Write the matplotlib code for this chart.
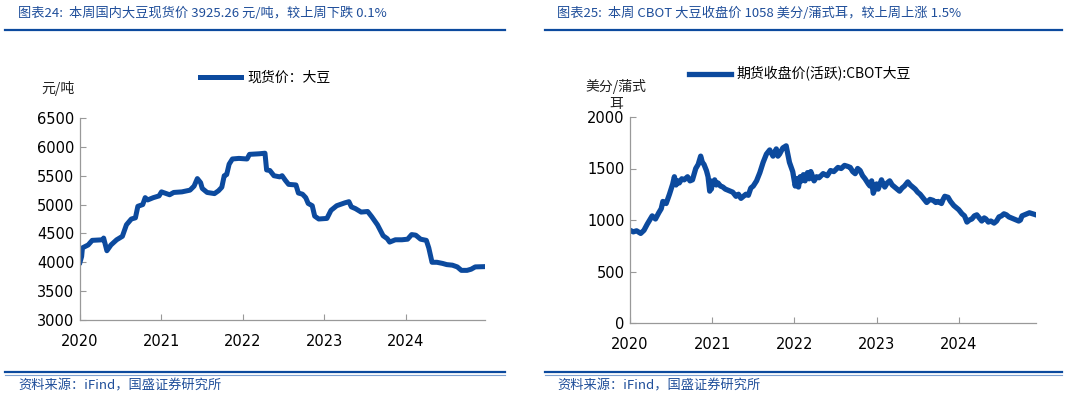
import matplotlib
matplotlib.use("Agg")
import matplotlib.pyplot as plt
from matplotlib.lines import Line2D

plt.rcParams['font.family'] = ['Noto Sans CJK SC', 'DejaVu Sans']

# Spot price: soybean (yuan/ton), x in decimal years
spot_x = [2020.00, 2020.02, 2020.03, 2020.10, 2020.15, 2020.28, 2020.29, 2020.33, 2020.38,
          2020.45, 2020.52, 2020.57, 2020.63, 2020.68, 2020.71, 2020.77, 2020.80, 2020.83,
          2020.90, 2020.97, 2021.00, 2021.10, 2021.15, 2021.25, 2021.35, 2021.40, 2021.44,
          2021.48, 2021.50, 2021.56, 2021.65, 2021.70, 2021.74, 2021.77, 2021.80, 2021.83,
          2021.87, 2021.95, 2022.05, 2022.08, 2022.20, 2022.27, 2022.29, 2022.33, 2022.38,
          2022.45, 2022.48, 2022.52, 2022.56, 2022.65, 2022.68, 2022.73, 2022.77, 2022.80,
          2022.85, 2022.88, 2022.93, 2023.03, 2023.08, 2023.15, 2023.25, 2023.30, 2023.33,
          2023.38, 2023.45, 2023.53, 2023.58, 2023.65, 2023.72, 2023.77, 2023.80, 2023.87,
          2023.95, 2024.02, 2024.07, 2024.12, 2024.18, 2024.25, 2024.28, 2024.32, 2024.38,
          2024.45, 2024.50, 2024.57, 2024.63, 2024.68, 2024.75, 2024.80, 2024.85, 2024.97]
spot_y = [4000, 4100, 4250, 4300, 4380, 4390, 4420, 4200, 4300,
          4390, 4450, 4650, 4750, 4770, 4970, 5000, 5120, 5080,
          5120, 5150, 5220, 5170, 5210, 5220, 5250, 5320, 5450,
          5380, 5280, 5210, 5190, 5240, 5300, 5500, 5520, 5700,
          5790, 5800, 5790, 5870, 5880, 5890, 5600, 5590, 5500,
          5480, 5500, 5420, 5350, 5340, 5200, 5180, 5120, 5020,
          4980, 4800, 4750, 4760, 4900, 4980, 5030, 5050, 4960,
          4930, 4870, 4880, 4790, 4650, 4460, 4410, 4350, 4390,
          4390, 4400, 4480, 4470, 4400, 4380, 4250, 4000, 4000,
          3980, 3960, 3950, 3920, 3860, 3860, 3880, 3920, 3925]

# CBOT soybean futures close (cents/bushel)
cbot_x = [2020.00, 2020.04, 2020.08, 2020.13, 2020.17, 2020.21, 2020.24, 2020.27, 2020.31,
          2020.35, 2020.38, 2020.40, 2020.44, 2020.48, 2020.52, 2020.54, 2020.56, 2020.58,
          2020.60, 2020.63, 2020.66, 2020.70, 2020.73, 2020.76, 2020.80, 2020.83, 2020.86,
          2020.88, 2020.90, 2020.93, 2020.95, 2020.97, 2020.98, 2020.99, 2021.00, 2021.03,
          2021.05, 2021.07, 2021.10, 2021.13, 2021.16, 2021.19, 2021.22, 2021.25, 2021.29,
          2021.32, 2021.35, 2021.38, 2021.41, 2021.44, 2021.47, 2021.50, 2021.54, 2021.58,
          2021.62, 2021.66, 2021.70, 2021.72, 2021.74, 2021.78, 2021.80, 2021.82, 2021.86,
          2021.90, 2021.92, 2021.94, 2021.98, 2022.01, 2022.03, 2022.05, 2022.07, 2022.09,
          2022.11, 2022.13, 2022.16, 2022.18, 2022.20, 2022.24, 2022.27, 2022.30, 2022.35,
          2022.40, 2022.44, 2022.48, 2022.53, 2022.57, 2022.61, 2022.65, 2022.68, 2022.71,
          2022.74, 2022.77, 2022.80, 2022.83, 2022.86, 2022.90, 2022.92, 2022.94, 2022.96,
          2023.00, 2023.02, 2023.06, 2023.08, 2023.10, 2023.13, 2023.16, 2023.19, 2023.22,
          2023.25, 2023.28, 2023.31, 2023.34, 2023.38, 2023.41, 2023.44, 2023.47, 2023.50,
          2023.53, 2023.56, 2023.61, 2023.65, 2023.69, 2023.72, 2023.75, 2023.79, 2023.81,
          2023.83, 2023.87, 2023.90, 2023.94, 2024.00, 2024.04, 2024.07, 2024.10, 2024.13,
          2024.16, 2024.19, 2024.22, 2024.25, 2024.28, 2024.31, 2024.33, 2024.36, 2024.39,
          2024.43, 2024.46, 2024.49, 2024.52, 2024.55, 2024.58, 2024.61, 2024.64, 2024.67,
          2024.70, 2024.73, 2024.75, 2024.77, 2024.80, 2024.83, 2024.86, 2024.90, 2024.94]
cbot_y = [900, 885, 895, 870, 900, 960, 1000, 1040, 1010,
          1070, 1110, 1180, 1160, 1250, 1350, 1420, 1340, 1380,
          1360, 1400, 1390, 1420, 1380, 1390, 1500, 1540, 1620,
          1560, 1540, 1480, 1420, 1280, 1380, 1300, 1350, 1390,
          1340, 1360, 1330, 1320, 1300, 1290, 1280, 1270, 1230,
          1250, 1210, 1230, 1250, 1240, 1310, 1330, 1380, 1460,
          1560, 1640, 1680, 1650, 1620, 1690, 1620, 1640, 1700,
          1720, 1640, 1560, 1470, 1330, 1400, 1320, 1420, 1380,
          1440, 1380, 1460, 1400, 1470, 1380, 1420, 1410, 1450,
          1430, 1480, 1470, 1510, 1500, 1530, 1520, 1510, 1470,
          1450, 1500, 1480, 1430, 1400, 1350, 1330, 1380, 1260,
          1350, 1300, 1390, 1350, 1320, 1360, 1380, 1340, 1320,
          1300, 1280, 1310, 1330, 1370, 1340, 1320, 1300, 1270,
          1250, 1220, 1170, 1200, 1190, 1170, 1180, 1160, 1200,
          1230, 1220, 1180, 1140, 1100, 1060, 1040, 980, 1000,
          1010, 1040, 1050, 1020, 990, 1020, 1010, 980, 990,
          970, 990, 1030, 1040, 1060, 1050, 1030, 1020, 1010,
          1000, 990, 1000, 1040, 1050, 1060, 1070, 1060, 1050]

years = [2020, 2021, 2022, 2023, 2024]
line_color = "#0C4A9E"
text_blue = "#1F4E9A"

fig = plt.figure(figsize=(10.65, 3.98), dpi=100)

# Panel titles and rules
fig.text(18 / 1065, 1 - 13 / 398, "图表24:  本周国内大豆现货价 3925.26 元/吨，较上周下跌 0.1%",
         color=text_blue, fontsize=9.5, style="italic", va="center", ha="left")
fig.text(557 / 1065, 1 - 13 / 398, "图表25:  本周 CBOT 大豆收盘价 1058 美分/蒲式耳，较上周上涨 1.5%",
         color=text_blue, fontsize=9.5, style="italic", va="center", ha="left")
for x0, x1 in [(5, 505), (545, 1062)]:
    fig.add_artist(Line2D([x0 / 1065, x1 / 1065], [1 - 30 / 398] * 2, color=line_color, lw=1.6))
    fig.add_artist(Line2D([x0 / 1065, x1 / 1065], [1 - 372 / 398] * 2, color=line_color, lw=1.6))
    fig.add_artist(Line2D([x0 / 1065, x1 / 1065], [1 - 374.5 / 398] * 2, color="#7FA1D0", lw=0.8))

fig.text(18 / 1065, 1 - 386 / 398, "资料来源：iFind，国盛证券研究所",
         color=text_blue, fontsize=9.5, style="italic", va="center", ha="left")
fig.text(557 / 1065, 1 - 386 / 398, "资料来源：iFind，国盛证券研究所",
         color=text_blue, fontsize=9.5, style="italic", va="center", ha="left")


def style_axes(ax):
    for s in ["top", "right"]:
        ax.spines[s].set_visible(False)
    for s in ["left", "bottom"]:
        ax.spines[s].set_color("#999999")
        ax.spines[s].set_linewidth(0.9)
    ax.tick_params(direction="in", length=4, color="#999999", labelsize=10.5, pad=4)
    ax.tick_params(axis="x", pad=10)
    ax.set_xticks(years)
    ax.set_xticklabels([str(y) for y in years])
    for lab in ax.get_xticklabels() + ax.get_yticklabels():
        lab.set_family("DejaVu Sans")


# Left: spot price
ax1 = fig.add_axes([80 / 1065, 1 - 320 / 398, 405 / 1065, 202 / 398])
ax1.plot(spot_x, spot_y, color=line_color, lw=3.6, solid_joinstyle="round",
         label="现货价：大豆")
ax1.set_xlim(2020.0, 2024.97)
ax1.set_ylim(3000, 6500)
ax1.set_yticks(range(3000, 6501, 500))
style_axes(ax1)
ax1.legend(loc="center", bbox_to_anchor=(265 / 1065, 1 - 78 / 398), bbox_transform=fig.transFigure,
           frameon=False, fontsize=10, handlelength=3.0, handletextpad=0.4)
fig.text(58 / 1065, 1 - 89 / 398, "元/吨", fontsize=10, ha="center", va="center", color="#222222")

# Right: CBOT futures
ax2 = fig.add_axes([630 / 1065, 1 - 323 / 398, 406 / 1065, 206 / 398])
ax2.plot(cbot_x, cbot_y, color=line_color, lw=3.8, solid_joinstyle="round",
         label="期货收盘价(活跃):CBOT大豆")
ax2.set_xlim(2020.0, 2024.94)
ax2.set_ylim(0, 2000)
ax2.set_yticks(range(0, 2001, 500))
style_axes(ax2)
ax2.legend(loc="center", bbox_to_anchor=(800 / 1065, 1 - 74 / 398), bbox_transform=fig.transFigure,
           frameon=False, fontsize=10, handlelength=3.0, handletextpad=0.4)
fig.text(616 / 1065, 1 - 95 / 398, "美分/蒲式\n耳", fontsize=10, ha="center", va="center",
         color="#222222", linespacing=1.35)

fig.savefig("out.png", dpi=100)
